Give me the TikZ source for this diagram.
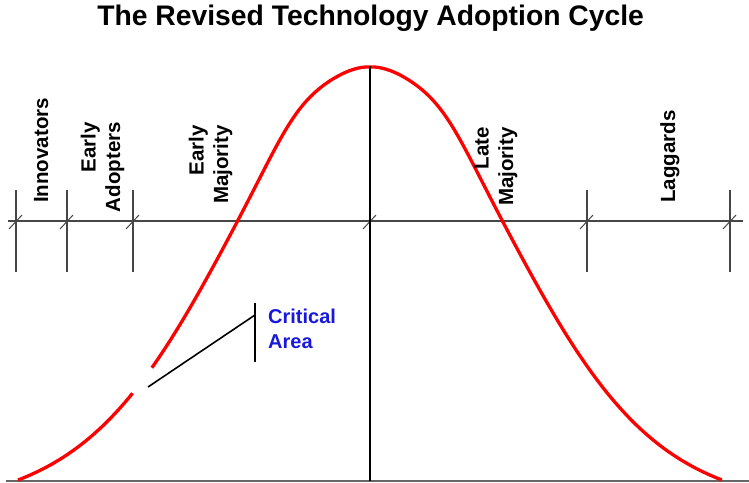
\documentclass[tikz,border=0pt]{standalone}
\usepackage{fontspec}
\setmainfont{Liberation Sans}
\definecolor{critblue}{RGB}{24,24,220}
\definecolor{axisgray}{RGB}{70,70,70}
\begin{document}
\begin{tikzpicture}[x=1pt,y=-1pt,
  curve/.style={draw=red, line width=3.3pt},
  axisline/.style={draw=axisgray, line width=1.1pt},
  tickline/.style={draw=axisgray, line width=1.1pt},
  slashline/.style={draw=axisgray, line width=1pt},
  centerline/.style={draw=black, line width=2pt},
  baseline/.style={draw=black!60, line width=1.4pt},
  critline/.style={draw=black, line width=1.6pt},
  phaselabel/.style={font=\fontsize{20.5}{24.5}\selectfont\bfseries, rotate=90, inner sep=0pt, align=right},
  critlabel/.style={font=\fontsize{20}{25}\selectfont\bfseries, text=critblue, inner sep=0pt, align=left},
  titlelabel/.style={font=\fontsize{28.3}{34}\selectfont\bfseries, inner sep=0pt}
]
\useasboundingbox (0,0) rectangle (749,482);

% title
\node[titlelabel, anchor=base] (title) at (370.6,25.5) {The Revised Technology Adoption Cycle};

% base line
\coordinate (baseL) at (6,481);
\coordinate (baseR) at (749,481);
\draw[baseline] (baseL) -- (baseR);

% horizontal axis
\coordinate (axL) at (8,221);
\coordinate (axR) at (743,221);
\draw[axisline] (axL) -- (axR);

% tick lines
\foreach \x in {16,67,133,587,730} {
  \draw[tickline] (\x,190) -- (\x,272);
}
% slashes
\foreach \x in {16,67,133,370,587,730} {
  \draw[slashline] (\x-7,229) -- (\x+6,215);
}

% bell curve (u = horizontal distance from centre / 100)
\draw[curve] plot[domain=-3.52:3.52, samples=177, smooth, variable=\u]
  ({370+100*\u},
   {480-(413*(exp(-\u*\u/3.8088)-0.0387*(\u/3.52)*(\u/3.52))
        +9*exp(-((abs(\u)-0.75)/0.35)*((abs(\u)-0.75)/0.35)))});

% gap in the curve
\draw[draw=white, line width=7pt] (132.5,393) -- (152,368);

% center line
\coordinate (peak) at (370,66);
\coordinate (foot) at (370,481);
\draw[centerline] (peak) -- (foot);

% critical area marker
\coordinate (critA) at (148,387);
\coordinate (critB) at (255,315);
\coordinate (barT) at (255,303);
\coordinate (barB) at (255,362);
\draw[critline] (barT) -- (barB);
\draw[critline] (critA) -- (critB);
\node[critlabel, anchor=base west] (crit) at (268,348) {Critical\\Area};

% phase labels
\node[phaselabel, anchor=base west] (innov) at (48,203) {Innovators};
\node[phaselabel, anchor=base east] (early) at (120,122) {Early\\Adopters};
\node[phaselabel, anchor=base east] (emaj) at (228,125) {Early\\Majority};
\node[phaselabel, anchor=base east] (lmaj) at (513,127) {Late\\Majority};
\node[phaselabel, anchor=base west] (lagg) at (675,203) {Laggards};
\end{tikzpicture}
\end{document}
